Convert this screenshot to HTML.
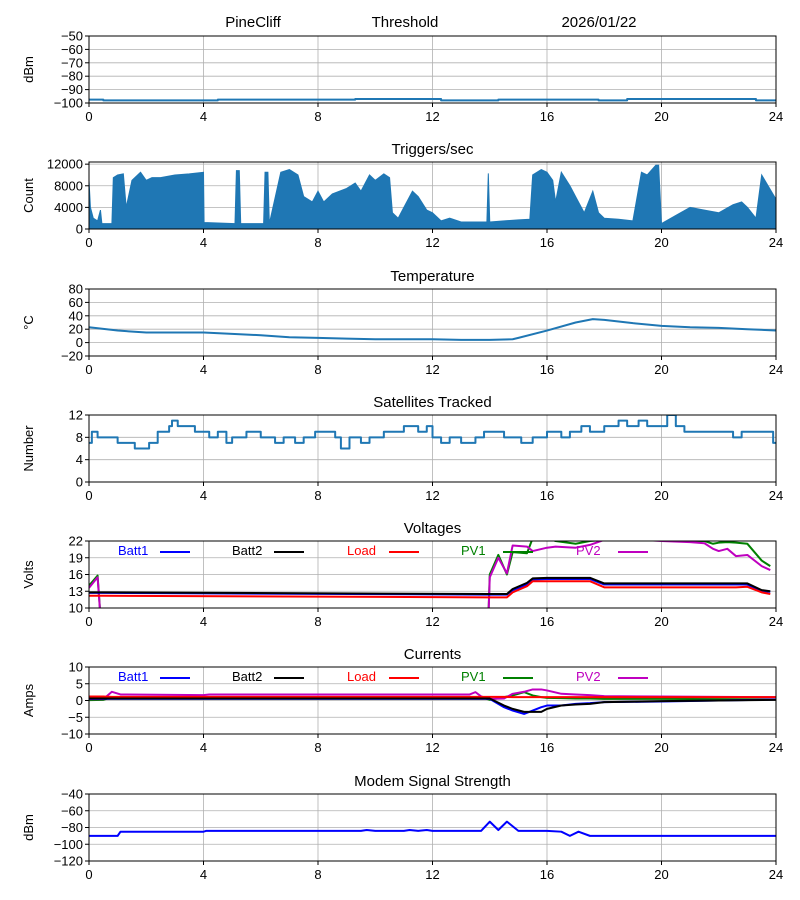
<!DOCTYPE html>
<html><head><meta charset="utf-8"><style>
body{margin:0;background:#fff}
svg{display:block;font-family:"Liberation Sans","DejaVu Sans",sans-serif}
</style></head><body>
<svg id="c" width="800" height="900" viewBox="0 0 800 900"></svg>
<script>
// ---- data ----
const rssiT=[0,0.5,1,4,4.5,9,9.3,12,12.3,14,14.3,17.5,17.8,18.5,18.8,23,23.3,24];
const rssiV=[-97.5,-98,-98,-98,-97.5,-97.5,-97,-97,-98,-98,-97.5,-97.5,-98,-98,-97,-97,-98,-98];
const trigT=[0,0.05,0.15,0.3,0.4,0.45,0.5,0.8,0.85,1.0,1.2,1.3,1.5,1.8,2.0,2.2,2.5,3,3.5,4,4.02,5.1,5.15,5.25,5.3,6.1,6.15,6.25,6.3,6.7,7.0,7.3,7.5,7.8,8.0,8.2,8.5,9,9.3,9.5,9.8,10,10.3,10.5,10.6,10.8,11,11.3,11.5,11.8,12,12.3,12.6,13,13.9,13.95,14.0,14.5,15,15.4,15.5,15.8,16,16.2,16.3,16.5,16.8,17,17.3,17.6,17.8,18,18.5,19,19.3,19.5,19.8,19.9,20,20.5,21,21.5,22,22.5,22.8,23,23.3,23.5,24];
const trigV=[9000,4000,2000,1500,3500,1000,1000,1000,9500,10000,10200,4000,9000,10500,9000,9500,9500,10000,10200,10500,1200,1000,10800,10800,1000,1000,10500,10500,1000,10500,11000,10000,6000,5000,7000,5000,6500,7500,8500,7000,10000,9000,10200,9500,3000,2000,4000,7000,6000,3500,3000,1500,2000,1300,1300,10300,1300,1500,1700,1800,10000,11000,10500,9000,5000,10500,8000,6000,3000,7000,3000,2000,1800,1500,10500,10000,11800,11800,1000,2500,4000,3500,3000,4500,5000,4000,2000,10000,5500];
const tempT=[0,1,2,3,4,5,6,7,8,9,10,11,12,13,14,14.8,15,16,17,17.6,18,19,20,21,22,23,24];
const tempV=[23,18,15,15,15,13,11,8,7,6,5,5,5,4,4,5,7,18,30,35,34,29,25,23,22,20,18];
const satT=[0,0.1,0.3,1,1.6,2.1,2.4,2.8,2.9,3.1,3.7,4.2,4.5,4.8,5,5.5,6,6.5,6.8,7.2,7.5,7.9,8.6,8.8,9.1,9.5,9.8,10.3,11,11.5,11.8,12,12.3,12.6,13,13.5,13.8,14.5,15.1,15.5,16,16.5,16.8,17.2,17.5,18,18.5,18.8,19.2,19.5,20,20.2,20.5,20.8,22,22.5,22.8,23.5,23.9,24];
const satV=[7,9,8,7,6,7,9,10,11,10,9,8,9,7,8,9,8,7,8,7,8,9,8,6,8,7,8,9,10,9,10,8,7,8,7,8,9,8,7,8,9,8,9,10,9,10,11,10,11,10,10,12,10,9,9,8,9,9,7,7];
const vT=[0,0.3,0.45,0.5,13.9,14.0,14.3,14.6,14.8,15.3,15.5,16,16.3,17,17.5,18,19,20,21,21.5,21.8,22,22.3,22.6,23,23.5,23.8];
const batt1V=[12.7,12.7,12.7,12.7,12.4,12.4,12.4,12.4,13.2,14.2,15.1,15.2,15.2,15.2,15.2,14.2,14.2,14.2,14.2,14.2,14.2,14.2,14.2,14.2,14.2,13.0,12.9];
const batt2V=[12.8,12.8,12.8,12.8,12.5,12.5,12.5,12.5,13.4,14.5,15.3,15.4,15.4,15.4,15.4,14.4,14.4,14.4,14.4,14.4,14.4,14.4,14.4,14.4,14.4,13.2,13.0];
const loadV=[12.2,12.2,12.2,12.2,11.9,11.9,11.9,11.9,12.8,13.9,14.8,14.8,14.8,14.8,14.8,13.7,13.7,13.7,13.7,13.7,13.7,13.7,13.7,13.7,13.8,12.8,12.5];
const pv1V=[14,15.8,5,0,0,16,19.5,16,20,19.8,22.5,22.5,22,21.5,22,22.2,22.3,22.2,22,22,21.5,21.7,21.8,21.7,21.5,18.5,17.5];
const pv2V=[13.6,15.5,5,0,0,15.5,19,16.2,21.2,21,20.2,20.8,21,20.8,21.3,22.2,22.3,22,21.8,21.6,20.6,20.2,20.6,19.3,19.5,17.5,16.8];
const iT=[0,0.5,0.8,1.1,4,4.2,13.3,13.5,13.7,14,14.5,14.8,15.2,15.5,15.8,16,16.5,17,17.5,18,20,22,24];
const iBatt1=[0.5,0.5,0.5,0.5,0.5,0.5,0.5,0.5,0.5,0.5,-2,-3,-4,-3,-2,-1.5,-1.5,-1,-0.8,-0.5,-0.3,0,0.3];
const iBatt2=[0.6,0.6,0.6,0.6,0.6,0.6,0.6,0.6,0.6,0.6,-1.5,-2.5,-3.4,-3.4,-3.4,-2.5,-1.5,-1.2,-1,-0.5,-0.2,0,0.2];
const iLoad=[1.2,1.2,1.1,1.1,1.1,1.1,1.1,1.1,1.1,1.1,1.1,1.0,1.0,1.0,1.0,1.0,1.0,1.0,1.0,1.0,1.0,1.0,1.0];
const iPv1=[0.1,0.2,1.0,1.0,1.0,1.0,1.0,1.0,1.0,0.2,1.0,1.5,2.5,1.5,1.0,0.8,0.7,0.6,0.6,0.5,0.5,0.4,0.3];
const iPv2=[0.4,0.4,2.6,1.8,1.6,1.8,1.8,2.5,1.2,0.5,0.6,2.0,2.6,3.3,3.3,3.0,2.0,1.8,1.6,1.3,1.2,1.1,1.0];
const modT=[0,1,1.1,4,4.1,9.5,9.7,10,11,11.2,11.5,11.8,12,12.2,13.7,14,14.3,14.6,15,16,16.5,16.8,17.1,17.5,24];
const modV=[-90,-90,-85,-85,-84,-84,-83,-84,-84,-83,-84,-83,-84,-84,-84,-73,-83,-73,-84,-84,-85,-90,-85,-90,-90];
const xTicks=[0,4,8,12,16,20,24];

// ---- drawing ----
const svg=document.getElementById('c');
const NS='http://www.w3.org/2000/svg';
const X0=89,X1=776,H=67;
function el(tag,attrs,parent){const e=document.createElementNS(NS,tag);for(const k in attrs)e.setAttribute(k,attrs[k]);(parent||svg).appendChild(e);return e;}
function txt(x,y,s,attrs,parent){const t=el('text',Object.assign({x:x,y:y,'font-size':13},attrs),parent);t.textContent=s;return t;}
const fmt=v=>String(v).replace('-','\u2212');
const xs=h=>X0+(X1-X0)*h/24;
let clipN=0;
function panel(name,top,ymin,ymax,yticks,ylabel,title){
  const g=el('g',{});
  
  
  const ys=v=>top+H-(v-ymin)/(ymax-ymin)*H;
  const grid=el('g',{stroke:'#b0b0b0','stroke-width':0.8},g);
  
  
  xTicks.forEach(t=>el('line',{x1:xs(t),x2:xs(t),y1:top,y2:top+H},grid));
  yticks.forEach(t=>el('line',{x1:X0,x2:X1,y1:ys(t),y2:ys(t)},grid));
  const id='cl'+(clipN++);
  const cp=el('clipPath',{id:id},g);el('rect',{x:X0,y:top,width:X1-X0,height:H},cp);
  const plot=el('g',{'clip-path':'url(#'+id+')'},g);
  
  
  el('rect',{x:X0,y:top,width:X1-X0,height:H,fill:'none',stroke:'#000','stroke-width':1},g);
  const xa=el('g',{},g);
  
  
  xTicks.forEach(t=>{el('line',{x1:xs(t),x2:xs(t),y1:top+H,y2:top+H+4,stroke:'#000'},xa);txt(xs(t),top+H+18,String(t),{'text-anchor':'middle'},xa);});
  const ya=el('g',{},g);
  
  
  yticks.forEach(t=>{el('line',{x1:X0-4,x2:X0,y1:ys(t),y2:ys(t),stroke:'#000'},ya);txt(X0-6,ys(t)+4.5,fmt(t),{'text-anchor':'end'},ya);});
  const yl=txt(0,0,ylabel,{'text-anchor':'middle',transform:'translate(33,'+(top+H/2)+') rotate(-90)'},g);
  
  
  if(title){const tt=txt((X0+X1)/2,top-8,title,{'text-anchor':'middle','font-size':15},g);
    
    }
  return {plot,ys,g};
}
function line(p,T,V,color,w,name,step){
  let d='';
  T.forEach((t,i)=>{const x=xs(t),y=p.ys(V[i]);
    if(i===0)d='M'+x+','+y;else if(step)d+='H'+x+'V'+y;else d+='L'+x+','+y;});
  const e=el('path',{d:d,fill:'none',stroke:color,'stroke-width':w,'stroke-linejoin':'round'},p.plot);
  
  
}
function legend(p,top){
  const items=[['Batt1','#0000ff',118],['Batt2','#000',232],['Load','#ff0000',347],['PV1','#008000',461],['PV2','#bf00bf',576]];
  items.forEach(it=>{
    const g=el('g',{},p.g);
    
    
    txt(it[2],top+14,it[0],{fill:it[1]},g);
    el('line',{x1:it[2]+42,x2:it[2]+72,y1:top+11,y2:top+11,stroke:it[1],'stroke-width':2},g);
  });
}
// title
[['PineCliff',253],['Threshold',405],['2026/01/22',599]].forEach((a,i)=>{
  const t=txt(a[1],27,a[0],{'text-anchor':'middle','font-size':15});
  
  
});
const BL='#1f77b4';
let p=panel('rssi',36,-100,-50,[-50,-60,-70,-80,-90,-100],'dBm',null);
line(p,rssiT,rssiV,BL,2,'rssi-line',true);
p=panel('triggers',162,0,12400,[0,4000,8000,12000],'Count','Triggers/sec');
{let d='M'+xs(trigT[0])+','+p.ys(0);trigT.forEach((t,i)=>d+='L'+xs(t)+','+p.ys(trigV[i]));d+='L'+xs(24)+','+p.ys(0)+'Z';
 const a=el('path',{d:d,fill:BL,stroke:BL,'stroke-width':1},p.plot);
 
 }
p=panel('temperature',289,-20,80,[-20,0,20,40,60,80],'°C','Temperature');
line(p,tempT,tempV,BL,2,'temperature-line',false);
p=panel('satellites',415,0,12,[0,4,8,12],'Number','Satellites Tracked');
line(p,satT,satV,BL,2,'satellites-line',true);
p=panel('voltages',541,10,22,[10,13,16,19,22],'Volts','Voltages');
line(p,vT,pv1V,'#008000',2,'pv1-voltage-line');
line(p,vT,pv2V,'#bf00bf',2,'pv2-voltage-line');
line(p,vT,batt1V,'#0000ff',2,'batt1-voltage-line');
line(p,vT,batt2V,'#000',2,'batt2-voltage-line');
line(p,vT,loadV,'#ff0000',2,'load-voltage-line');
legend(p,541);
p=panel('currents',667,-10,10,[-10,-5,0,5,10],'Amps','Currents');
line(p,iT,iPv1,'#008000',2,'pv1-current-line');
line(p,iT,iPv2,'#bf00bf',2,'pv2-current-line');
line(p,iT,iLoad,'#ff0000',2,'load-current-line');
line(p,iT,iBatt1,'#0000ff',2,'batt1-current-line');
line(p,iT,iBatt2,'#000',2,'batt2-current-line');
legend(p,667);
p=panel('modem',794,-120,-40,[-120,-100,-80,-60,-40],'dBm','Modem Signal Strength');
line(p,modT,modV,'#0000ff',2,'modem-signal-line');
</script>
</body></html>
